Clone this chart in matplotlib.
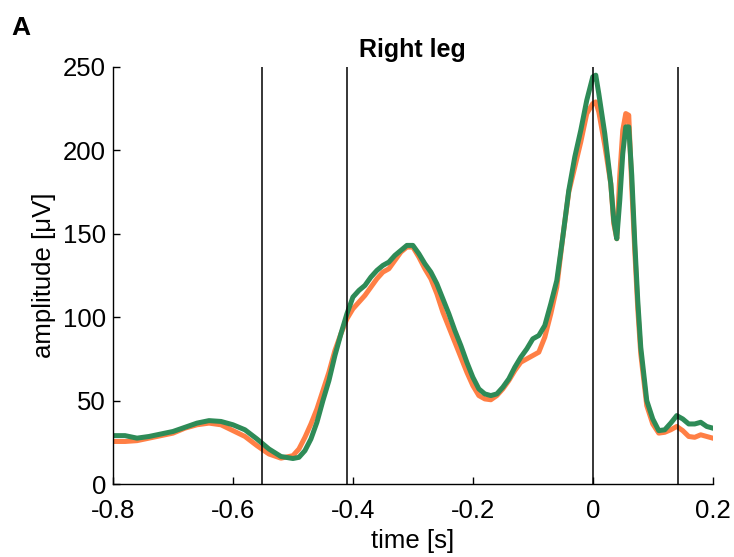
import matplotlib.pyplot as plt

# time axis [s] and the two averaged traces [uV]
t = [-0.80, -0.78, -0.76, -0.74, -0.72, -0.70, -0.68, -0.66, -0.64, -0.62,
     -0.60, -0.58, -0.56, -0.54, -0.52, -0.50, -0.49, -0.48, -0.47, -0.46,
     -0.45, -0.44, -0.43, -0.42, -0.41, -0.40, -0.39, -0.38, -0.37, -0.36,
     -0.35, -0.34, -0.33, -0.32, -0.31, -0.30, -0.29, -0.28, -0.27, -0.26,
     -0.25, -0.24, -0.23, -0.22, -0.21, -0.20, -0.19, -0.18, -0.17, -0.16,
     -0.15, -0.14, -0.13, -0.12, -0.11, -0.10, -0.09, -0.08, -0.07, -0.06,
     -0.05, -0.04, -0.03, -0.02, -0.01, 0.00, 0.005, 0.01, 0.02, 0.03,
     0.035, 0.04, 0.045, 0.05, 0.055, 0.06, 0.065, 0.07, 0.075, 0.08,
     0.09, 0.10, 0.11, 0.12, 0.13, 0.14, 0.15, 0.16, 0.17, 0.18,
     0.19, 0.20]

green = [29, 29, 27.5, 28.5, 30, 31.5, 34, 36.5, 38, 37.5,
         35.5, 32.5, 27, 21, 16.5, 15.3, 16, 20, 27, 37,
         50, 62, 77, 90, 102, 112, 116, 119, 124, 128,
         131, 133, 137, 140, 143, 143, 138, 132, 127, 120,
         111, 102, 92, 83, 73, 64, 57, 54, 53, 54,
         58, 63, 70, 76, 81, 87, 89, 95, 108, 122,
         148, 176, 196, 212, 230, 244, 245, 234, 210, 180,
         158, 147, 170, 198, 214, 214, 185, 145, 110, 82,
         50, 39, 32, 32.5, 36.5, 41, 39, 36, 36, 37,
         34.5, 33.5]

orange = [25.5, 25.5, 26, 27.5, 29, 30.5, 33.5, 35.5, 36.5, 35.5,
          32, 28.5, 23, 18, 15.5, 17, 21, 28, 36, 45,
          56, 67, 80, 90, 99, 105, 109, 113, 118, 123,
          127, 129, 134, 139, 142, 142, 136, 129, 123, 114,
          103, 94, 85, 76, 67, 59, 53, 51, 50.5, 53,
          57, 62, 68, 73, 75, 77, 79, 88, 102, 118,
          148, 175, 190, 205, 222, 228, 229, 223, 203, 180,
          156, 147, 185, 212, 222, 221, 178, 140, 105, 78,
          47, 36, 30.5, 31, 32.5, 34.5, 32, 28.5, 28, 29.5,
          28.5, 27.5]

events = [-0.551, -0.41, 0.0, 0.142]

plt.rcParams['font.family'] = ['Liberation Sans Narrow', 'Liberation Sans', 'DejaVu Sans']

fig = plt.figure(figsize=(7.34, 5.57), dpi=100)
ax = fig.add_axes([0.154, 0.131, 0.817, 0.749])

ax.plot(t, orange, color='#FF7F45', lw=3.6, zorder=2)
ax.plot(t, green, color='#2E8B57', lw=3.6, zorder=2)
for e in events:
    ax.axvline(e, color='black', lw=1.1, zorder=3)

ax.set_xlim(-0.8, 0.2)
ax.set_ylim(0, 250)
ax.set_xticks([-0.8, -0.6, -0.4, -0.2, 0, 0.2])
ax.set_xticklabels(['-0.8', '-0.6', '-0.4', '-0.2', '0', '0.2'])
ax.set_yticks([0, 50, 100, 150, 200, 250])
ax.tick_params(direction='in', length=5, width=1, labelsize=18.5)
ax.tick_params(axis='x', pad=11)
ax.tick_params(axis='y', pad=5)
ax.spines['top'].set_visible(False)
ax.spines['right'].set_visible(False)
ax.spines['left'].set_linewidth(1)
ax.spines['bottom'].set_linewidth(1)

ax.set_xlabel('time [s]', fontsize=18.5, labelpad=4)
ax.set_ylabel('amplitude [\u03bcV]', fontsize=18.5, labelpad=5)
ax.set_title('Right leg', fontsize=18, fontweight='bold', pad=7)
fig.text(0.015, 0.95, 'A', fontsize=19, fontweight='bold', va='center')

fig.savefig('out.png', dpi=100)
